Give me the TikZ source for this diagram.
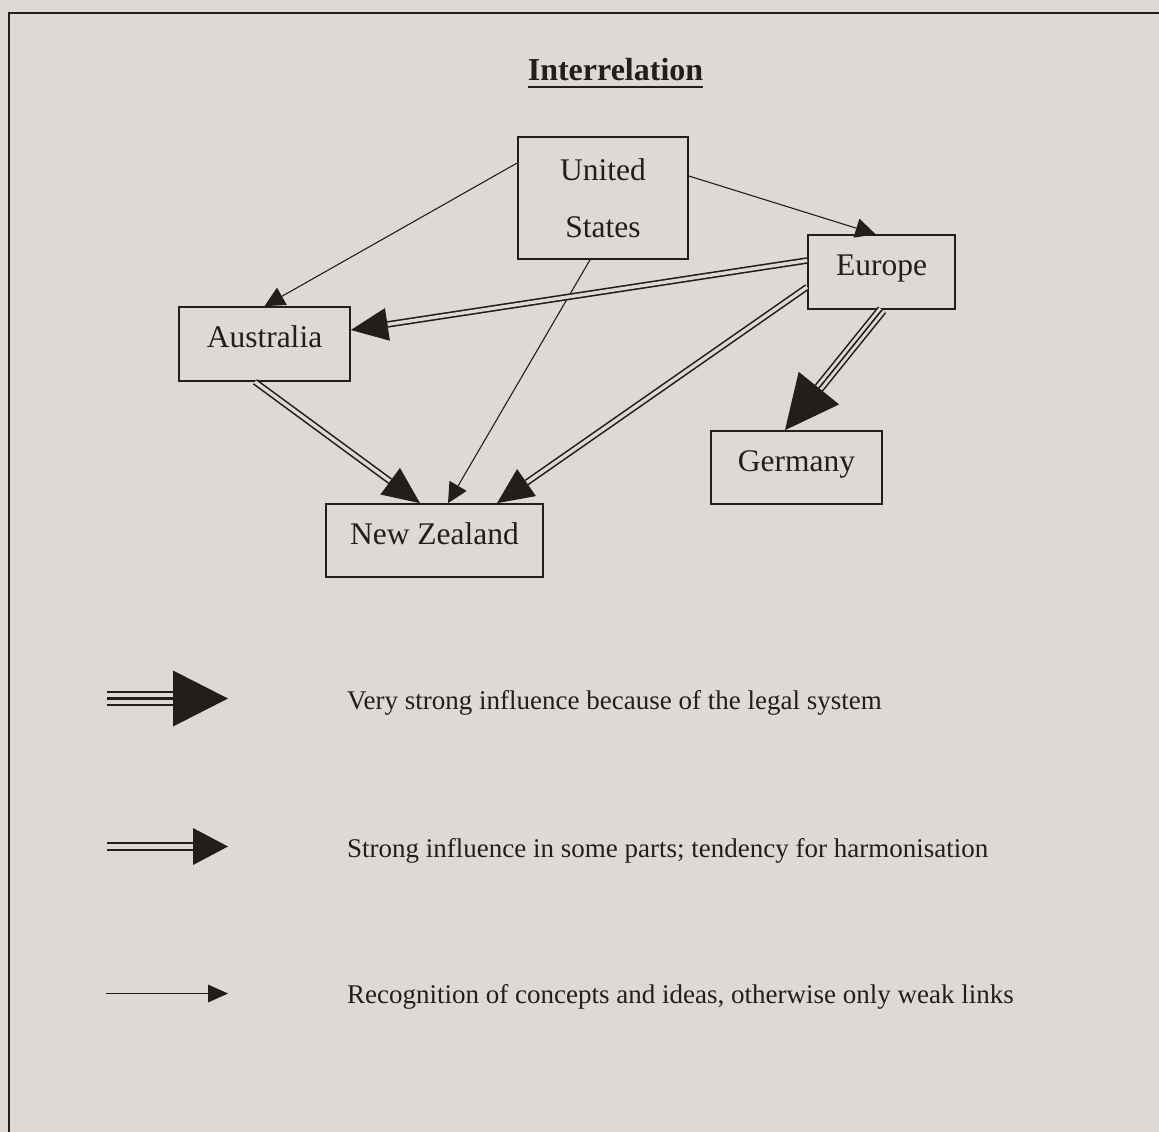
\documentclass[tikz,border=0pt]{standalone}
\usepackage{fontspec}
\setmainfont{Liberation Serif}
\usetikzlibrary{calc}
\definecolor{bg}{RGB}{221,217,213}
\definecolor{ink}{RGB}{35,30,28}
% #1 line style, #2 from, #3 to, #4 head length, #5 half head width
\newcommand\infl[5]{%
  \draw[#1, shorten >=#4pt] (#2) -- (#3);
  \coordinate (hb) at ($(#3)!#4pt!(#2)$);
  \fill[ink] (#3) -- ($(hb)!#5pt!90:(#3)$) -- ($(hb)!#5pt!-90:(#3)$) -- cycle;
}
\begin{document}
\begin{tikzpicture}[x=1pt,y=-1pt,
  box/.style={draw=ink, line width=1.7pt, fill=bg, inner sep=0pt, text=ink,
    font=\fontsize{31.5}{38}\selectfont, text height=22pt, text depth=14.5pt},
  twobox/.style={draw=ink, line width=1.7pt, fill=bg, inner sep=0pt, text=ink,
    align=center, font=\fontsize{31.5}{57}\selectfont},
  legtext/.style={anchor=base west, inner sep=0pt, text=ink, font=\fontsize{27}{32}\selectfont},
  thin/.style={draw=ink, line width=1.1pt},
  dbl/.style={draw=ink, line width=1.6pt, double=bg, double distance=3.4pt},
  tri/.style={draw=ink, line width=1.6pt, double=bg, double distance=7.4pt},
  trimid/.style={draw=ink, line width=1.6pt},
  ldbl/.style={draw=ink, line width=2.1pt, double=bg, double distance=4.9pt},
  ltri/.style={draw=ink, line width=2.3pt, double=bg, double distance=11.3pt},
  ltrimid/.style={draw=ink, line width=2.3pt},
  lthin/.style={draw=ink, line width=1.5pt}
]
\fill[bg] (0,0) rectangle (1159,1132);
\useasboundingbox (0,0) rectangle (1159,1132);
% frame
\draw[ink, line width=2pt] (8.5,1140) -- (8.5,13.5) -- (1170,13.5);

% title
\node[anchor=base, inner sep=0pt, text=ink, font=\fontsize{32}{38}\selectfont\bfseries] (title) at (615.5,81) {Interrelation};
\draw[ink, line width=2.2pt] ([yshift=-6pt]title.base west) -- ([yshift=-6pt]title.base east);

% nodes
\node[twobox, minimum width=170pt, minimum height=122pt] (us) at (603,198) {United\\States};
\node[box, minimum width=171pt, minimum height=74pt] (au) at (264.5,344) {Australia};
\node[box, minimum width=147pt, minimum height=74pt] (eu) at (881.5,272) {Europe};
\node[box, minimum width=171pt, minimum height=73pt] (de) at (796.5,467.5) {Germany};
\node[box, minimum width=217pt, minimum height=73pt] (nz) at (434.5,540.5) {New Zealand};

% connector end points on node borders
\coordinate (usA) at ([yshift=35pt]us.west);
\coordinate (auT) at (au.north);
\coordinate (usE) at ([yshift=22pt]us.east);
\coordinate (euT) at ([xshift=-6pt]eu.north);
\coordinate (usB) at ([xshift=-13pt]us.south);
\coordinate (nzU) at ([xshift=13.5pt]nz.north);
\coordinate (euL1) at ([yshift=11.5pt]eu.west);
\coordinate (auR) at ([yshift=14pt]au.east);
\coordinate (euL2) at ([yshift=-15pt]eu.west);
\coordinate (nzE) at ([xshift=62.5pt]nz.north);
\coordinate (auB) at ([xshift=-9.5pt]au.south);
\coordinate (nzA) at ([xshift=-14.5pt]nz.north);
\coordinate (euB) at ([xshift=0.5pt]eu.south);
\coordinate (deT) at ([xshift=-11.5pt]de.north);

% weak links
\infl{thin}{usA}{auT}{20}{10}
\infl{thin}{usE}{euT}{20}{10}
\infl{thin}{usB}{nzU}{20}{10}
% strong influence
\infl{dbl}{euL1}{auR}{37}{16.5}
\infl{dbl}{euL2}{nzE}{36}{16.5}
\infl{dbl}{auB}{nzA}{37}{16.5}
% very strong influence
\infl{tri}{euB}{deT}{54}{26}
\draw[trimid, shorten >=54pt] (euB) -- (deT);

% legend
\node[legtext] (l1) at (347,709) {Very strong influence because of the legal system};
\node[legtext] (l2) at (347,857) {Strong influence in some parts; tendency for harmonisation};
\node[legtext] (l3) at (347,1003) {Recognition of concepts and ideas, otherwise only weak links};

\coordinate (a1s) at (107,698.5);
\coordinate (a1e) at (228,698.5);
\coordinate (a2s) at (107,846.5);
\coordinate (a2e) at (228,846.5);
\coordinate (a3s) at (106,993.5);
\coordinate (a3e) at (228,993.5);
\infl{ltri}{a1s}{a1e}{55}{28}
\draw[ltrimid, shorten >=55pt] (a1s) -- (a1e);
\infl{ldbl}{a2s}{a2e}{35}{18.5}
\infl{lthin}{a3s}{a3e}{20}{9}
\end{tikzpicture}
\end{document}
